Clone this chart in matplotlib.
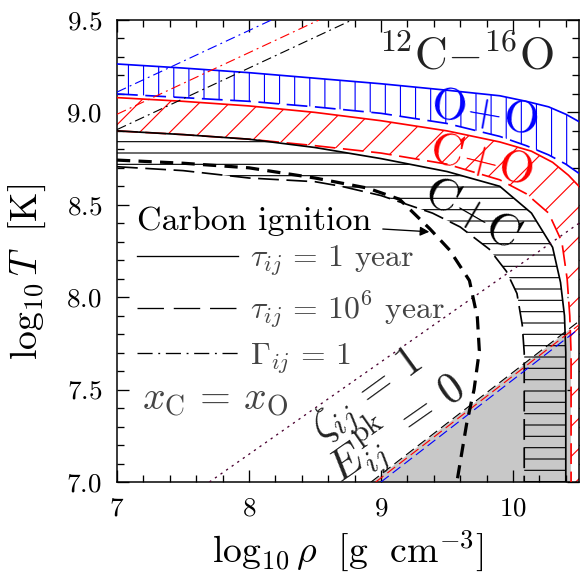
import numpy as np
import matplotlib
matplotlib.use('Agg')
import matplotlib.pyplot as plt
from matplotlib.lines import Line2D

# axis ranges
x_lim = [7.0, 10.5]
y_lim = [7.0, 9.5]

# O+O burning curves (tau = 1 yr solid, tau = 1e6 yr dashed)
oo_1yr_x = [7.0, 7.5, 8.0, 8.5, 9.0, 9.5, 9.9, 10.1, 10.27, 10.4, 10.5]
oo_1yr_y = [9.262, 9.24, 9.215, 9.185, 9.155, 9.12, 9.09, 9.06, 9.03, 8.99, 8.95]
oo_1e6_x = [7.0, 7.5, 8.0, 8.5, 9.0, 9.5, 9.9, 10.1, 10.27, 10.4, 10.5]
oo_1e6_y = [9.10, 9.08, 9.06, 9.03, 8.995, 8.94, 8.87, 8.82, 8.77, 8.72, 8.67]

# C+O
co_1yr_x = [7.0, 7.5, 8.0, 8.5, 9.0, 9.5, 9.9, 10.14, 10.3, 10.42, 10.5, 10.58, 10.63, 10.65]
co_1yr_y = [9.08, 9.06, 9.035, 9.0, 8.955, 8.90, 8.84, 8.79, 8.73, 8.66, 8.60, 8.45, 8.0, 7.0]
co_1e6_x = [7.0, 7.5, 8.0, 8.5, 9.0, 9.5, 9.9, 10.1, 10.27, 10.37, 10.41, 10.43, 10.44, 10.44]
co_1e6_y = [8.90, 8.88, 8.855, 8.82, 8.78, 8.72, 8.635, 8.56, 8.455, 8.30, 8.10, 7.90, 7.70, 7.0]

# C+C
cc_1yr_x = [7.0, 7.5, 8.0, 8.5, 9.0, 9.5, 9.9, 10.14, 10.3, 10.36, 10.39, 10.40, 10.40]
cc_1yr_y = [8.90, 8.88, 8.855, 8.81, 8.75, 8.68, 8.60, 8.455, 8.27, 8.08, 7.90, 7.70, 7.0]
cc_1e6_x = [7.0, 7.5, 8.0, 8.5, 8.7, 9.0, 9.39, 9.6, 9.82, 9.95, 10.03, 10.07, 10.085, 10.085]
cc_1e6_y = [8.706, 8.685, 8.645, 8.625, 8.60, 8.55, 8.455, 8.38, 8.26, 8.14, 8.02, 7.85, 7.70, 7.0]

# carbon ignition curve
ign_x = [7.0, 7.5, 8.0, 8.5, 8.9, 9.14, 9.37, 9.52, 9.67, 9.73, 9.745, 9.705, 9.65, 9.575]
ign_y = [8.742, 8.725, 8.70, 8.645, 8.59, 8.53, 8.37, 8.255, 8.09, 7.89, 7.71, 7.50, 7.32, 7.0]

# Gamma_ij = 1 lines
gam_oo_x = [7.0, 8.17]
gam_oo_y = [9.11, 9.50]
gam_co_x = [7.0, 8.53]
gam_co_y = [8.99, 9.50]
gam_cc_x = [7.0, 8.78]
gam_cc_y = [8.907, 9.50]

# zeta_ij = 1
zeta_x = [7.70, 10.5]
zeta_y = [7.0, 8.40]

# E^pk_ij = 0
epk_cc_x = [8.925, 10.5]
epk_cc_y = [7.0, 7.87]
epk_co_x = [8.96, 10.5]
epk_co_y = [7.0, 7.85]
epk_oo_x = [9.0, 10.5]
epk_oo_y = [7.0, 7.83]

DPI = 272
plt.rcParams['font.family'] = 'serif'
plt.rcParams['font.serif'] = ['cmr10']
plt.rcParams['mathtext.fontset'] = 'cm'
plt.rcParams['axes.formatter.use_mathtext'] = True
plt.rcParams['hatch.linewidth'] = 0.3
plt.rcParams['lines.scale_dashes'] = False

fig = plt.figure(figsize=(583 / DPI, 574 / DPI), dpi=DPI)
ax = fig.add_axes([117 / 583, 1 - 482 / 574, 462 / 583, 462 / 574])

# gray region below E^pk = 0
ax.fill_between(epk_cc_x, epk_cc_y, y_lim[0], color='#c8c8c8', lw=0, zorder=1)

# hatched bands
ax.fill(cc_1yr_x + cc_1e6_x[::-1], cc_1yr_y + cc_1e6_y[::-1],
        facecolor='none', edgecolor='k', hatch='----', lw=0, zorder=2)
ax.fill(co_1yr_x + co_1e6_x[::-1], co_1yr_y + co_1e6_y[::-1],
        facecolor='white', edgecolor='red', hatch='///', lw=0, zorder=2)
ax.fill(oo_1yr_x + oo_1e6_x[::-1], oo_1yr_y + oo_1e6_y[::-1],
        facecolor='none', edgecolor='blue', hatch='|||', lw=0, zorder=2)

lw = 0.45
dash_long = (0, (5.5, 2.0))
ax.plot(oo_1yr_x, oo_1yr_y, color='blue', lw=lw, zorder=3)
ax.plot(oo_1e6_x, oo_1e6_y, color='blue', lw=lw, ls=dash_long, zorder=3)
ax.plot(co_1yr_x, co_1yr_y, color='red', lw=lw, zorder=3)
ax.plot(co_1e6_x, co_1e6_y, color='red', lw=lw, ls=dash_long, zorder=3)
ax.plot(cc_1yr_x, cc_1yr_y, color='k', lw=lw, zorder=3)
ax.plot(cc_1e6_x, cc_1e6_y, color='k', lw=lw, ls=dash_long, zorder=3)

ax.plot(ign_x, ign_y, color='k', lw=0.85, ls=(0, (3.5, 2.2)), zorder=4)

dashdot = (0, (2.6, 1.1, 0.5, 1.1))
ax.plot(gam_oo_x, gam_oo_y, color='blue', lw=0.3, ls=dashdot, zorder=3)
ax.plot(gam_co_x, gam_co_y, color='red', lw=0.3, ls=dashdot, zorder=3)
ax.plot(gam_cc_x, gam_cc_y, color='k', lw=0.3, ls=dashdot, zorder=3)

ax.plot(zeta_x, zeta_y, color='#4a0030', lw=0.35, ls=(0, (0.6, 1.2)), zorder=3)

edash = (0, (2.6, 1.3))
ax.plot(epk_cc_x, epk_cc_y, color='k', lw=0.3, ls=edash, zorder=3)
ax.plot(epk_co_x, epk_co_y, color='red', lw=0.3, ls=edash, zorder=3)
ax.plot(epk_oo_x, epk_oo_y, color='blue', lw=0.3, ls=edash, zorder=3)

# labels
ax.text(9.64, 9.30, r'$^{12}\mathrm{C}{-}^{16}\mathrm{O}$', fontsize=12,
        color='#222222', ha='center', va='center')
ax.text(9.78, 8.99, r'$\mathrm{O\!+\!O}$', fontsize=12, color='blue',
        ha='center', va='center', rotation=-10)
ax.text(9.76, 8.73, r'$\mathrm{C\!+\!O}$', fontsize=12, color='red',
        ha='center', va='center', rotation=-14)
ax.text(9.68, 8.445, r'$\mathrm{C\!+\!C}$', fontsize=12, color='k',
        ha='center', va='center', rotation=-30)
ax.annotate('Carbon ignition', xy=(9.366, 8.354), xytext=(8.04, 8.41),
            fontsize=9, ha='center', va='center',
            arrowprops=dict(arrowstyle='-|>', lw=0.35, color='k',
                            mutation_scale=5, shrinkA=1, shrinkB=0))
ax.text(7.74, 7.44, r'$x_{\rm C}\,=\,x_{\rm O}$', fontsize=10.5, color='#444444',
        ha='center', va='center')
ax.text(8.90, 7.46, r'$\zeta_{ij}\,=\,1$', fontsize=11.5, color='#222222',
        ha='center', va='center', rotation=36, rotation_mode='anchor')
ax.text(9.12, 7.29, r'$E_{ij}^{\rm pk}\,=\,0$', fontsize=11.5, color='#222222',
        ha='center', va='center', rotation=35, rotation_mode='anchor')

handles = [Line2D([], [], color='k', lw=0.35),
           Line2D([], [], color='k', lw=0.35, ls=(0, (7.0, 2.6))),
           Line2D([], [], color='k', lw=0.35, ls=(0, (4.0, 1.5, 0.5, 1.5)))]
labels = [r'$\tau_{ij}\,=\,1$ year', r'$\tau_{ij}\,=\,10^6$ year', r'$\Gamma_{ij}\,=\,1$']
ax.legend(handles, labels, loc='upper left', bbox_to_anchor=(0.043, 0.515),
          frameon=False, fontsize=8.4, labelcolor='#444444', borderpad=0,
          borderaxespad=0, handlelength=3.2, handletextpad=0.35, labelspacing=0.36)

ax.set_xlim(x_lim)
ax.set_ylim(y_lim)
ax.set_xticks([7, 8, 9, 10])
ax.set_yticks([7.0, 7.5, 8.0, 8.5, 9.0, 9.5])
ax.set_xticks(np.arange(7.0, 10.5, 0.2), minor=True)
ax.set_yticks(np.arange(7.0, 9.5, 0.1), minor=True)
ax.tick_params(which='both', direction='in', top=True, right=True, width=0.35,
               labelsize=7.2, pad=4)
ax.tick_params(which='major', length=3.2)
ax.tick_params(which='minor', length=1.8)
for s in ax.spines.values():
    s.set_linewidth(0.4)

ax.set_xlabel(r'$\log_{10}\rho\ \ [\mathrm{g\ \ cm^{-3}}]$', fontsize=10, labelpad=2)
ax.set_ylabel(r'$\log_{10}T\ \ [\mathrm{K}]$', fontsize=10)
ax.yaxis.set_label_coords(-0.15, 0.455)

fig.savefig('out.png', dpi=DPI)
